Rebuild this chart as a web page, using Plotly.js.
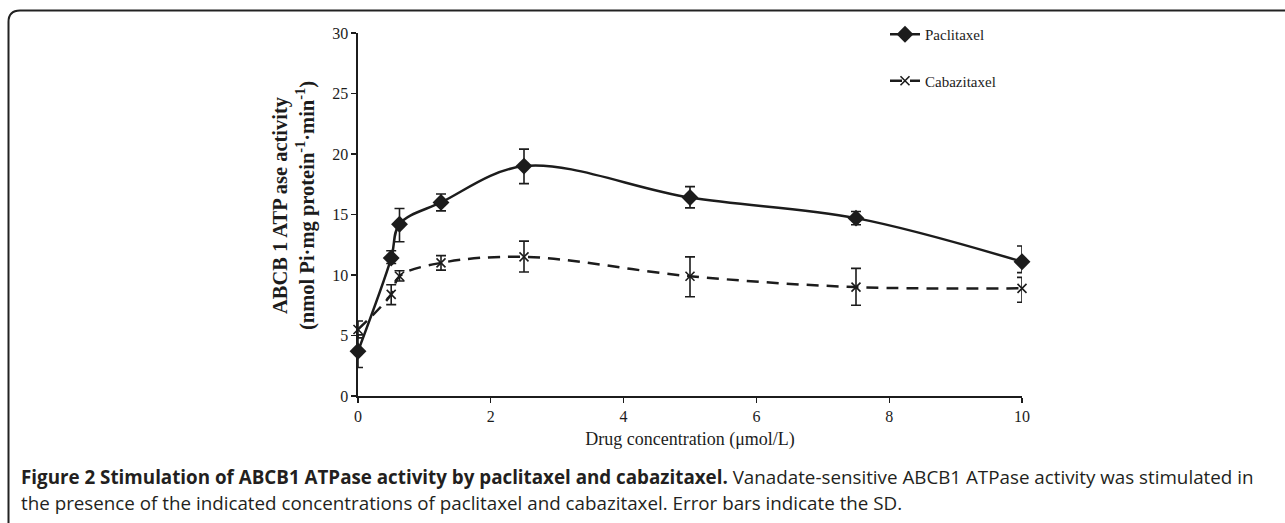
<!DOCTYPE html>
<html>
<head>
<meta charset="utf-8">
<script src="https://cdn.plot.ly/plotly-3.0.1.min.js"></script>
<style>
  html, body { margin: 0; padding: 0; background: #fff; }
  #chart { width: 1285px; height: 523px; }
</style>
</head>
<body>
<div id="chart"></div>
<script>
// ---- data ----
const concentration = [0, 0.5, 0.625, 1.25, 2.5, 5, 7.5, 10];
const paclitaxel = [3.7, 11.4, 14.2, 16.0, 19.0, 16.4, 14.7, 11.1];
const paclitaxelSdPlus = [1.35, 0.6, 1.3, 0.7, 1.4, 0.9, 0.55, 1.3];
const paclitaxelSdMinus = [1.35, 0.45, 1.45, 0.7, 1.45, 0.85, 0.55, 0.9];
const cabazitaxel = [5.5, 8.4, 9.9, 11.0, 11.5, 9.9, 9.0, 8.9];
const cabazitaxelSdPlus = [0.7, 0.8, 0.45, 0.6, 1.3, 1.6, 1.55, 0.9];
const cabazitaxelSdMinus = [0.7, 0.85, 0.4, 0.6, 1.25, 1.7, 1.5, 1.15];
const xTicks = [0, 2, 4, 6, 8, 10];
const yTicks = [0, 5, 10, 15, 20, 25, 30];
const seriesNames = ["Paclitaxel", "Cabazitaxel"];

// ---- layout geometry ----
const W = 1285, H = 523;
const M = { l: 358, r: 263, t: 33, b: 127 };
const pw = W - M.l - M.r, ph = H - M.t - M.b;
const px = x => (x - M.l) / pw;           // pixel -> paper x
const py = y => (H - M.b - y) / ph;       // pixel -> paper y

const ink = "#1c1c1c";
const serif = "Liberation Serif, Times New Roman, serif";
const sans = "Open Sans, sans-serif";

const traces = [
  {
    x: concentration, y: paclitaxel, name: seriesNames[0], legendgroup: "a",
    type: "scatter", mode: "lines+markers", cliponaxis: false,
    line: { color: ink, width: 2.5, shape: "spline", smoothing: 1 },
    marker: { symbol: "diamond", size: 13, color: ink },
    error_y: { type: "data", symmetric: false, array: paclitaxelSdPlus, arrayminus: paclitaxelSdMinus,
               color: ink, thickness: 1.6, width: 5 }
  },
  {
    x: concentration, y: cabazitaxel, name: seriesNames[1], legendgroup: "b",
    type: "scatter", mode: "lines+markers", cliponaxis: false,
    line: { color: ink, width: 2.5, dash: "12px,8px", shape: "spline", smoothing: 1 },
    marker: { symbol: "x-thin-open", size: 9, color: ink, line: { color: ink, width: 1.6 } },
    error_y: { type: "data", symmetric: false, array: cabazitaxelSdPlus, arrayminus: cabazitaxelSdMinus,
               color: ink, thickness: 1.6, width: 5 }
  }
];

const layout = {
  width: W, height: H,
  margin: M,
  paper_bgcolor: "#fff", plot_bgcolor: "#fff",
  font: { family: serif, color: ink, size: 15 },
  showlegend: true,
  legend: {
    x: px(885), y: py(18), xanchor: "left", yanchor: "top",
    font: { family: serif, size: 15, color: ink },
    bgcolor: "rgba(0,0,0,0)", itemwidth: 30, tracegroupgap: 24,
    traceorder: "grouped"
  },
  xaxis: {
    range: [0, 10], tickvals: xTicks, ticktext: xTicks.map(String),
    showgrid: false, zeroline: false, showline: true, linecolor: ink, linewidth: 1.6,
    ticks: "outside", ticklen: 5, tickwidth: 1.4, tickcolor: ink,
    tickfont: { family: serif, size: 16, color: ink },
    title: { text: "Drug concentration (μmol/L)", font: { family: serif, size: 18, color: ink }, standoff: 8 }
  },
  yaxis: {
    range: [0, 30], tickvals: yTicks, ticktext: yTicks.map(String),
    showgrid: false, zeroline: false, showline: true, linecolor: ink, linewidth: 1.6,
    ticks: "outside", ticklen: 5, tickwidth: 1.4, tickcolor: ink,
    tickfont: { family: serif, size: 16, color: ink }
  },
  shapes: [
    { type: "path", xref: "paper", yref: "paper", layer: "above",
      path: `M ${px(8.5)} ${py(523)} L ${px(8.5)} ${py(22)} Q ${px(8.5)} ${py(10.5)} ${px(20)} ${py(10.5)} L ${px(1285)} ${py(10.5)}`,
      line: { color: "#222", width: 2 } }
  ],
  annotations: [
    { xref: "paper", yref: "paper", x: px(294), y: py(206), xanchor: "center", yanchor: "middle",
      showarrow: false, textangle: -90, align: "center",
      text: "<b>ABCB 1 ATP ase activity<br>(nmol Pi·mg protein<sup>-1</sup>·min<sup>-1</sup>)</b>",
      font: { family: serif, size: 20.5, color: ink } },
    { xref: "paper", yref: "paper", x: px(19), y: py(477), xanchor: "left", yanchor: "middle", showarrow: false, align: "left",
      text: "<b>Figure 2 Stimulation of ABCB1 ATPase activity by paclitaxel and cabazitaxel.</b> Vanadate-sensitive ABCB1 ATPase activity was stimulated in",
      font: { family: sans, size: 18.8, color: "#231f20" } },
    { xref: "paper", yref: "paper", x: px(19), y: py(503), xanchor: "left", yanchor: "middle", showarrow: false, align: "left",
      text: "the presence of the indicated concentrations of paclitaxel and cabazitaxel. Error bars indicate the SD.",
      font: { family: sans, size: 18.8, color: "#231f20" } }
  ]
};

Plotly.newPlot("chart", traces, layout, { displayModeBar: false, staticPlot: true });
</script>
</body>
</html>
